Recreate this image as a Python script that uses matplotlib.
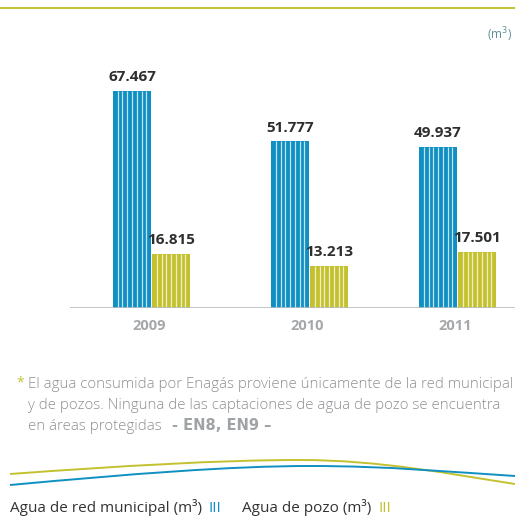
import matplotlib.pyplot as plt
from matplotlib.path import Path
from matplotlib.patches import PathPatch

# consumo de agua (m3)
years = ["2009", "2010", "2011"]
red_municipal = [67467, 51777, 49937]
pozo = [16815, 13213, 17501]

BLUE = "#0f8fc2"
YELLOW = "#c4c12f"
BLUE_GAP = "#c4e2ef"
YELLOW_GAP = "#eeeecb"

W, H = 515, 517
fig = plt.figure(figsize=(W / 100, H / 100), dpi=100)

# page layer in pixel coordinates for texts and ornaments
page = fig.add_axes([0, 0, 1, 1])
page.set_xlim(0, W)
page.set_ylim(H, 0)
page.axis("off")

# chart area: baseline at y=308 px, top at y=60 px
ax = fig.add_axes([70 / W, 1 - 308 / H, (W - 70) / W, 248 / H])
ymax = 67467 * 248 / 217
ax.set_ylim(0, ymax)
ax.set_xlim(70, W)
ax.axis("off")

group_x = [151.5, 309.5, 457.5]
bw = 38


def fmt(v):
    return f"{v:,}".replace(",", ".")


for gx, b, p in zip(group_x, red_municipal, pozo):
    for left, v, col, gcol in [(gx - bw - 0.5, b, BLUE, BLUE_GAP),
                               (gx + 0.5, p, YELLOW, YELLOW_GAP)]:
        ax.bar(left, v, width=bw, align="edge", color=col, linewidth=0, zorder=2)
        stripes = [left + k * bw / 8 for k in range(1, 8)]
        ax.vlines(stripes, 0, v, color=gcol, linewidth=0.9, zorder=3)
        ax.annotate(fmt(v), (left + bw / 2, v), xytext=(0, 5), textcoords="offset points",
                    ha="center", va="bottom", fontsize=11, fontweight="bold",
                    color="#2e2e2e", family="Open Sans")

ax.axhline(0, xmin=0, xmax=1, color="#b9bcbf", linewidth=1.2, zorder=4)

for gx, y in zip(group_x, years):
    page.text(gx - 2, 326, y, ha="center", va="center", fontsize=10.5,
              fontweight="bold", color="#a5a8ab", family="Open Sans")

# top rule and unit
page.plot([0, W], [8, 8], color=YELLOW, linewidth=1.4)
page.text(512, 35, "(m$^3$)", ha="right", va="center", fontsize=8.5,
          color="#5f9097", family="Open Sans")

# footnote
note_color = "#8d9093"
page.text(16, 383, "*", ha="left", va="center", fontsize=10, color=YELLOW,
          family="Open Sans")
lines = ["El agua consumida por Enagás proviene únicamente de la red municipal",
         "y de pozos. Ninguna de las captaciones de agua de pozo se encuentra",
         "en áreas protegidas"]
for i, ln in enumerate(lines):
    page.text(28, 385 + i * 20.5, ln, ha="left", va="center", fontsize=10.85,
              color=note_color, family="Open Sans", fontweight="light")
page.text(222, 426, "- EN8, EN9 –", ha="center", va="center", fontsize=10.5,
          color="#a0a3a6", family=["Liberation Sans Narrow", "DejaVu Sans"],
          fontweight="bold")

# decorative waves
codes = [Path.MOVETO, Path.CURVE4, Path.CURVE4, Path.CURVE4,
         Path.CURVE4, Path.CURVE4, Path.CURVE4]
wave_y = [(10, 474), (120, 466), (220, 460), (300, 460), (380, 460), (450, 474), (515, 484)]
wave_b = [(10, 485), (130, 474), (230, 466), (310, 466), (390, 466), (450, 472), (515, 476)]
page.add_patch(PathPatch(Path(wave_y, codes), facecolor="none", edgecolor=YELLOW, linewidth=1.4))
page.add_patch(PathPatch(Path(wave_b, codes), facecolor="none", edgecolor=BLUE, linewidth=1.4))

# legend
leg_color = "#333333"
page.text(10, 508, "Agua de red municipal (m³)", ha="left", va="center", fontsize=11,
          color=leg_color, family="Open Sans")
page.text(208, 508, "III", ha="left", va="center", fontsize=11,
          color=BLUE, family="Open Sans")
page.text(242, 508, "Agua de pozo (m³)", ha="left", va="center", fontsize=11,
          color=leg_color, family="Open Sans")
page.text(378, 508, "III", ha="left", va="center", fontsize=11,
          color=YELLOW, family="Open Sans")

fig.savefig("out.png", dpi=100)
